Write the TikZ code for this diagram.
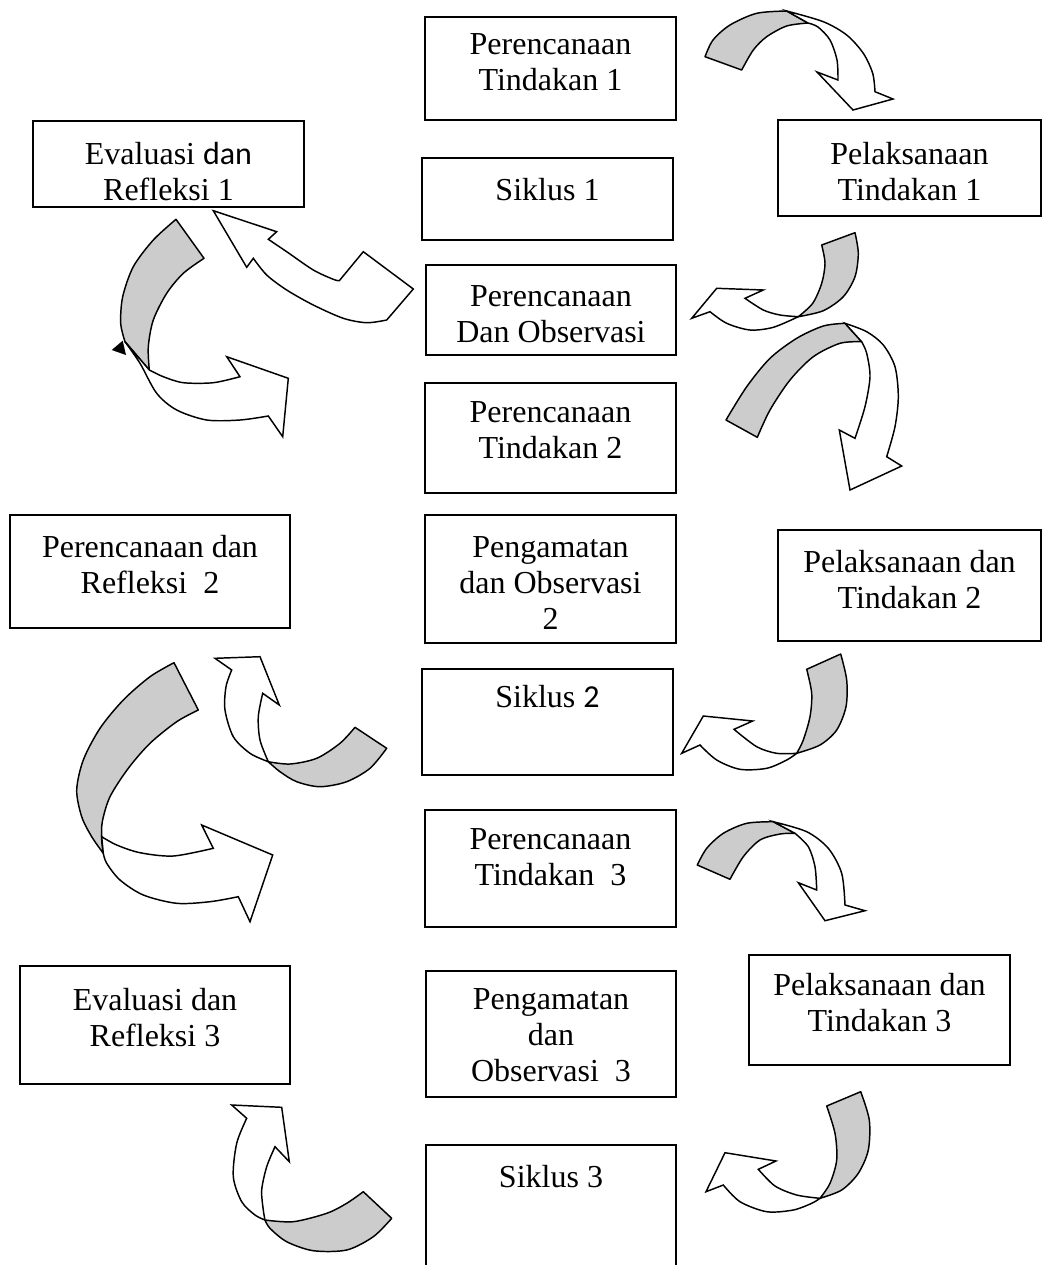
\documentclass[tikz,border=0pt]{standalone}
\usepackage{fontspec}
\setmainfont{Liberation Serif}
\newfontfamily\calfont{Carlito}
\usetikzlibrary{positioning, fit}
\definecolor{bandgray}{HTML}{CCCCCC}

\begin{document}
\begin{tikzpicture}[
  x=0.75pt, y=-0.75pt,
  box/.style={draw=black, line width=1.5pt, inner sep=0pt},
  txt/.style={font=\fontsize{24}{27}\selectfont, align=center, inner sep=0pt},
  backband/.style={draw=black, fill=bandgray, line width=1.1pt, line join=round},
  frontband/.style={draw=black, fill=white, line width=1.1pt, line join=miter},
]

% Page
\useasboundingbox (0,0) rectangle (1049,1265);
\clip (0,0) rectangle (1049,1265);
\fill[white] (0,0) rectangle (1049,1265);

% === Middle column ===
\node[box, fit={(425,17) (676,120)}] (pt1) {};
\node[txt, below=13pt of pt1.north] (pt1t) {Perencanaan\\Tindakan 1};

\node[box, fit={(422,158) (673,240)}] (sk1) {};
\node[txt, below=16pt of sk1.north] (sk1t) {Siklus 1};

\node[box, fit={(426,265) (676,355)}] (po) {};
\node[txt, below=16pt of po.north] (pot) {Perencanaan\\Dan Observasi};

\node[box, fit={(425,383) (676,493)}] (pt2) {};
\node[txt, below=14.5pt of pt2.north] (pt2t) {Perencanaan\\Tindakan 2};

\node[box, fit={(425,515) (676,643)}] (pg2) {};
\node[txt, below=17pt of pg2.north] (pg2t) {Pengamatan\\dan Observasi\\2};

\node[box, fit={(422,669) (673,775)}] (sk2) {};
\node[txt, below=13pt of sk2.north] (sk2t) {Siklus {\calfont 2}};

\node[box, fit={(425,810) (676,927)}] (pt3) {};
\node[txt, below=14.5pt of pt3.north] (pt3t) {Perencanaan\\Tindakan\ \ 3};

\node[box, fit={(426,971) (676,1097)}] (pg3) {};
\node[txt, below=14pt of pg3.north] (pg3t) {Pengamatan\\dan\\Observasi\ \ 3};

\node[box, fit={(426,1145) (676,1275)}] (sk3) {};
\node[txt, below=16pt of sk3.north] (sk3t) {Siklus 3};

% === Left column ===
\node[box, fit={(33,121) (304,207)}] (ev1) {};
\node[txt, below=16.5pt of ev1.north] (ev1t) {Evaluasi {\calfont dan}\\Refleksi 1};

\node[box, fit={(10,515) (290,628)}] (pr2) {};
\node[txt, below=16pt of pr2.north] (pr2t) {Perencanaan dan\\Refleksi\ \ 2};

\node[box, fit={(20,966) (290,1084)}] (ev3) {};
\node[txt, below=17.5pt of ev3.north] (ev3t) {Evaluasi dan\\Refleksi 3};

% === Right column ===
\node[box, fit={(778,120) (1041,216)}] (pl1) {};
\node[txt, below=17pt of pl1.north] (pl1t) {Pelaksanaan\\Tindakan 1};

\node[box, fit={(778,530) (1041,641)}] (pl2) {};
\node[txt, below=16pt of pl2.north] (pl2t) {Pelaksanaan dan\\Tindakan 2};

\node[box, fit={(749,955) (1010,1065)}] (pl3) {};
\node[txt, below=14.5pt of pl3.north] (pl3t) {Pelaksanaan dan\\Tindakan 3};

% === Curved arrows ===
% top right, towards Pelaksanaan 1
\draw[backband] plot[smooth] coordinates {(705,56.7) (713,40) (730,25) (756.7,13.3) (786.7,11)}
  -- (808,23) -- plot[smooth] coordinates {(808,23) (786.7,26) (766.7,36.7) (753.3,50) (741.7,70)} -- cycle;
\draw[frontband] plot[smooth] coordinates {(786.7,11) (823.3,21.7) (846.7,35) (863.3,53.3) (872.7,73.3) (875,91.7)}
  -- (893,99) -- (853,110) -- (817,72) -- (838,80)
  -- plot[smooth] coordinates {(838,80) (837,60) (830,40) (818,27) (808,23)} -- cycle;

% left of Evaluasi 1, turning right
\draw[backband] plot[smooth] coordinates {(176,219.3) (153.3,240) (133.3,266.7) (122.7,296.7) (120.7,323.3) (125,341.7)}
  -- (149.3,370) -- plot[smooth] coordinates {(149.3,370) (148.3,346.7) (153.3,320) (166.7,293.3) (183.3,273.3) (204,258.3)} -- cycle;
\draw[frontband] plot[smooth] coordinates {(125,341.7) (140,363.3) (156.7,393.3) (176.7,410) (206.7,420) (240,420) (268.3,416)}
  -- (282.7,436.7) -- (288.3,378.3) -- (226.7,356.7) -- (240,376.7)
  -- plot[smooth] coordinates {(240,376.7) (213.3,382.7) (183.3,382.7) (163.3,376.7) (149.3,370)} -- cycle;
\fill (111.7,350) -- (122.7,340.7) -- (126,355) -- cycle;

% from Perencanaan Dan Observasi up to Evaluasi 1
\draw[frontband] (213.3,210.7) -- (276.7,231.7) -- (268.3,239.3)
  -- plot[smooth] coordinates {(268.3,239.3) (286.7,251.7) (313.3,270) (333.3,279.3) (339.3,280.7)}
  -- (363.3,251.7) -- (413.3,289) -- (386.7,320)
  -- plot[smooth] coordinates {(386.7,320) (366.7,322.7) (343.3,318.3) (313.3,305) (286.7,290) (266.7,275) (253.3,258.3)}
  -- (246.7,267.3) -- cycle;

% right of Perencanaan Dan Observasi
\draw[backband] (821.7,245) -- (855,232.7)
  -- plot[smooth] coordinates {(855,232.7) (858.3,253.3) (855,276.7) (843.3,296.7) (823.3,310.7) (798.3,316.7)}
  -- plot[smooth] coordinates {(798.3,316.7) (812.7,303.3) (821.7,283.3) (825,263.3) (821.7,245)} -- cycle;
\draw[frontband] plot[smooth] coordinates {(798.3,316.7) (780,315) (763.3,310) (745,298.3)}
  -- (763.3,290) -- (716.7,288.3) -- (691.7,318.3) -- (710,311.7)
  -- plot[smooth] coordinates {(710,311.7) (726.7,323.3) (750,330) (773.3,327.3) (798.3,316.7)} -- cycle;

% towards Pelaksanaan 2
\draw[backband] plot[smooth] coordinates {(726,420) (746.7,386.7) (770,358.3) (796.7,338.3) (823.3,326) (845,323.3)}
  -- (861.7,341.7) -- plot[smooth] coordinates {(861.7,341.7) (840,343.3) (813.3,356.7) (790,380) (770,410) (757.3,437.3)} -- cycle;
\draw[frontband] plot[smooth] coordinates {(845,323.3) (866.7,331.7) (883.3,345) (895,366.7) (898.3,396.7) (895,426.7) (886.7,456.7)}
  -- (901.7,466) -- (850,490) -- (839.3,430) -- (855,438.3)
  -- plot[smooth] coordinates {(855,438.3) (865,406.7) (870,376.7) (866.7,353.3) (861.7,341.7)} -- cycle;

% left, long turn towards Perencanaan 3
\draw[backband] plot[smooth] coordinates {(174,662.7) (150,676.7) (123.3,700) (100,728.3) (83.3,760) (76.7,790) (81.7,816.7) (91.7,836.7) (103.3,853.3)}
  -- plot[smooth] coordinates {(103.3,853.3) (101.7,840) (102.3,821.7) (110,796.7) (128.3,768.3) (150,743.3) (176.7,721.7) (198.3,710)} -- cycle;
\draw[frontband] plot[smooth] coordinates {(101.7,836.7) (116.7,845) (140,852.7) (173.3,856) (213.3,848.3)}
  -- (201.7,825) -- (272.7,855) -- (250,921.7) -- (238.3,896.7)
  -- plot[smooth] coordinates {(238.3,896.7) (210,901.7) (176.7,903.3) (143.3,895) (120,880) (106.7,863.3) (103.3,853.3)} -- cycle;

% up to Perencanaan dan Refleksi 2
\draw[frontband] (231.7,670) -- (215,658.3) -- (260,656.7) -- (279.3,705) -- (262.7,693.3)
  -- plot[smooth] coordinates {(262.7,693.3) (258.3,716.7) (260,740) (268.3,761.7)}
  -- plot[smooth] coordinates {(268.3,761.7) (250,753.3) (233.3,736.7) (225,710) (226,686.7) (231.7,670)} -- cycle;
\draw[backband] plot[smooth] coordinates {(268.3,761.7) (290,764) (316.7,758.3) (340,743.3) (355,727.3)}
  -- (386.7,748.3) -- plot[smooth] coordinates {(386.7,748.3) (370,768.3) (346.7,781.7) (320,786.7) (296.7,781.7) (280,771.7) (268.3,761.7)} -- cycle;

% right of Siklus 2
\draw[backband] (806.7,669.3) -- (840.7,654)
  -- plot[smooth] coordinates {(840.7,654) (846.7,680) (846,706.7) (836.7,730) (820,745) (796.7,753.3)}
  -- plot[smooth] coordinates {(796.7,753.3) (803.3,740) (810,716.7) (811.7,693.3) (806.7,669.3)} -- cycle;
\draw[frontband] plot[smooth] coordinates {(796.7,753.3) (776.7,753.3) (756.7,746.7) (734,729.3)}
  -- (752.7,721) -- (703.3,716) -- (681.7,753.3) -- (700,745)
  -- plot[smooth] coordinates {(700,745) (716.7,760) (740,769.3) (766.7,768.3) (786.7,760) (796.7,753.3)} -- cycle;

% towards Pelaksanaan 3
\draw[backband] plot[smooth] coordinates {(697.3,865) (706.7,848.3) (723.3,833.3) (746.7,823.3) (773.3,821.7)}
  -- (795,833.3) -- plot[smooth] coordinates {(795,833.3) (780,834) (760,840) (743.3,856.7) (730,879.3)} -- cycle;
\draw[frontband] plot[smooth] coordinates {(773.3,821.7) (806.7,831.7) (828.3,848.3) (841.7,873.3) (845,905)}
  -- (865,910.7) -- (825,920.7) -- (798.3,882.7) -- (816.7,890)
  -- plot[smooth] coordinates {(816.7,890) (815,866.7) (808.3,846.7) (795,833.3)} -- cycle;

% up to Evaluasi 3
\draw[frontband] (246.7,1118.3) -- (231.7,1105) -- (281.7,1107.3) -- (289.3,1161.7) -- (275,1146.7)
  -- plot[smooth] coordinates {(275,1146.7) (266.7,1166.7) (261.7,1190) (263.3,1210) (265,1220)}
  -- plot[smooth] coordinates {(265,1220) (255,1215) (241.7,1201.7) (233.3,1176.7) (236.7,1143.3) (246.7,1118.3)} -- cycle;
\draw[backband] plot[smooth] coordinates {(265,1220) (293.3,1221.7) (326.7,1213.3) (346.7,1203.3) (363.3,1191.7)}
  -- (391.7,1218.3) -- plot[smooth] coordinates {(391.7,1218.3) (373.3,1236.7) (346.7,1250) (313.3,1250.7) (286.7,1241.7) (270,1228.3) (265,1220)} -- cycle;

% right of Siklus 3
\draw[backband] (826.7,1106) -- (860.7,1091.7)
  -- plot[smooth] coordinates {(860.7,1091.7) (869.3,1120) (868.3,1150) (858.3,1173.3) (841.7,1190) (820,1198.3)}
  -- plot[smooth] coordinates {(820,1198.3) (830,1183.3) (836.7,1160) (835,1133.3) (826.7,1106)} -- cycle;
\draw[frontband] plot[smooth] coordinates {(820,1198.3) (796.7,1195) (775,1186) (758.3,1169.3)}
  -- (776,1161) -- (725,1152.7) -- (706,1191.7) -- (723.3,1185)
  -- plot[smooth] coordinates {(723.3,1185) (740,1201.7) (766.7,1211.7) (793.3,1210) (811.7,1203.3) (820,1198.3)} -- cycle;

\end{tikzpicture}
\end{document}
